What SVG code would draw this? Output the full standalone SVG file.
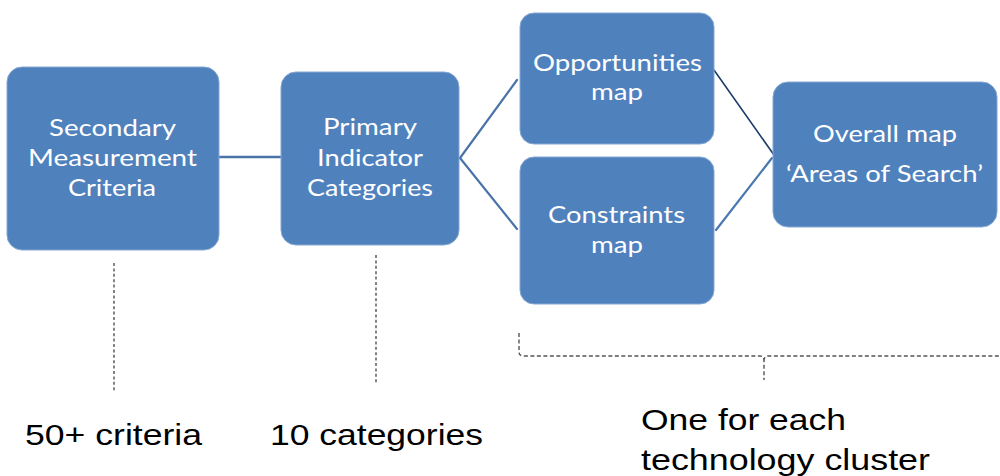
<svg xmlns="http://www.w3.org/2000/svg" width="1000" height="476" viewBox="0 0 1000 476">
<style>
.box{fill:#4f81bd;stroke:#86a7d2;stroke-width:1}
.bt{fill:#ffffff;font-family:Lato,"Open Sans",sans-serif;font-size:24px;text-anchor:start}
.lt{fill:#000000;font-family:"Liberation Sans",Arial,sans-serif;font-size:29px}
.conn{fill:none;stroke-linecap:round}
.dot{fill:none;stroke:#666666;stroke-width:1.6;stroke-dasharray:3 2.4}
.brk{fill:none;stroke:#555555;stroke-width:1.4;stroke-dasharray:4 2.5}
</style>
<rect width="1000" height="476" fill="#ffffff"/>
<g id="connectors">
<line class="conn" x1="219" y1="157" x2="281" y2="157" stroke="#4a74a8" stroke-width="2.5"/>
<line class="conn" x1="460" y1="158" x2="517" y2="80" stroke="#4a74a8" stroke-width="2.2"/>
<line class="conn" x1="460" y1="158" x2="517" y2="229" stroke="#4a74a8" stroke-width="2.2"/>
<line class="conn" x1="714" y1="70" x2="774" y2="155" stroke="#1f3d6b" stroke-width="1.6"/>
<line class="conn" x1="716" y1="230" x2="772" y2="158" stroke="#4a78b0" stroke-width="2.2"/>
</g>
<g id="node-secondary">
<rect class="box" x="7" y="67" width="212" height="183" rx="15"/>
<text class="bt" x="49" y="136" textLength="127" lengthAdjust="spacingAndGlyphs">Secondary</text>
<text class="bt" x="28" y="166" textLength="169" lengthAdjust="spacingAndGlyphs">Measurement</text>
<text class="bt" x="68" y="196" textLength="88" lengthAdjust="spacingAndGlyphs">Criteria</text>
</g>
<g id="node-primary">
<rect class="box" x="281" y="72" width="178" height="173" rx="15"/>
<text class="bt" x="323" y="135" textLength="94" lengthAdjust="spacingAndGlyphs">Primary</text>
<text class="bt" x="317" y="166" textLength="106" lengthAdjust="spacingAndGlyphs">Indicator</text>
<text class="bt" x="307" y="196" textLength="126" lengthAdjust="spacingAndGlyphs">Categories</text>
</g>
<g id="node-opportunities">
<rect class="box" x="520" y="13" width="194" height="131" rx="14"/>
<text class="bt" x="533" y="71" textLength="169" lengthAdjust="spacingAndGlyphs">Opportunities</text>
<text class="bt" x="591" y="100" textLength="52" lengthAdjust="spacingAndGlyphs">map</text>
</g>
<g id="node-constraints">
<rect class="box" x="520" y="157" width="194" height="147" rx="14"/>
<text class="bt" x="548" y="223" textLength="137" lengthAdjust="spacingAndGlyphs">Constraints</text>
<text class="bt" x="591" y="253" textLength="52" lengthAdjust="spacingAndGlyphs">map</text>
</g>
<g id="node-overall">
<rect class="box" x="773" y="82" width="224" height="145" rx="15"/>
<text class="bt" x="813" y="142" textLength="144" lengthAdjust="spacingAndGlyphs">Overall map</text>
<text class="bt" x="786" y="182" textLength="197" lengthAdjust="spacingAndGlyphs">‘Areas of Search’</text>
</g>
<g id="annotations">
<line class="dot" x1="114" y1="263" x2="114" y2="392"/>
<line class="dot" x1="376" y1="255" x2="376" y2="384"/>
<path class="brk" d="M519 333 L519 352 Q519 356 524 356 L760 356 Q764 356 764 361 L764 380 M764 361 Q764 356 768 356 L1000 356"/>
<text class="lt" x="25" y="445" textLength="177" lengthAdjust="spacingAndGlyphs">50+ criteria</text>
<text class="lt" x="270" y="445" textLength="213" lengthAdjust="spacingAndGlyphs">10 categories</text>
<text class="lt" x="641" y="430" textLength="205" lengthAdjust="spacingAndGlyphs">One for each</text>
<text class="lt" x="641" y="470" textLength="289" lengthAdjust="spacingAndGlyphs">technology cluster</text>
</g>
</svg>
